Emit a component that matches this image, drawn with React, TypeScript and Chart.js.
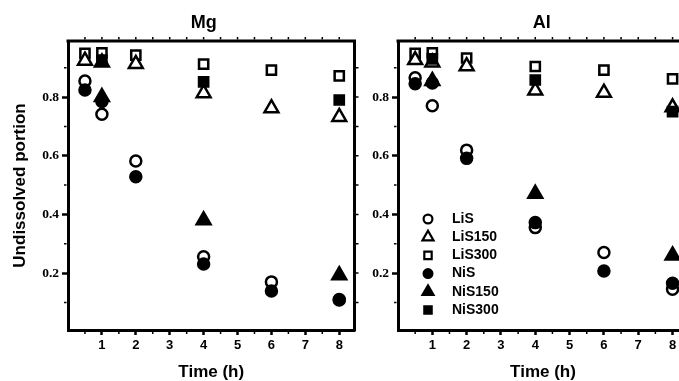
import React, { useEffect, useRef } from 'react';
import { Chart, registerables } from 'chart.js';
import { drawPoint } from 'chart.js/helpers';

Chart.register(...registerables);

// ---------- data ----------
const timePoints = [0.5, 1, 2, 4, 6, 8];
const xTickValues = [1, 2, 3, 4, 5, 6, 7, 8];
const yTickValues = [0.2, 0.4, 0.6, 0.8];
const xMinorTicks = [0.5, 1, 1.5, 2, 2.5, 3, 3.5, 4, 4.5, 5, 5.5, 6, 6.5, 7, 7.5, 8];
const yMinorTicks = [0.1, 0.2, 0.3, 0.4, 0.5, 0.6, 0.7, 0.8, 0.9];
const seriesNames = ['LiS', 'LiS150', 'LiS300', 'NiS', 'NiS150', 'NiS300'];

const mgLiS = [0.855, 0.741, 0.582, 0.256, 0.17, 0.11];
const mgLiS150 = [0.924, 0.918, 0.913, 0.813, 0.762, 0.732];
const mgLiS300 = [0.949, 0.951, 0.943, 0.912, 0.892, 0.872];
const mgNiS = [0.824, 0.785, 0.528, 0.231, 0.139, 0.108];
const mgNiS150 = [null, 0.8, null, 0.38, null, 0.193];
const mgNiS300 = [null, 0.926, null, 0.852, null, 0.79];

const alLiS = [0.866, 0.77, 0.619, 0.355, 0.27, 0.145];
const alLiS150 = [0.926, 0.918, 0.905, 0.822, 0.815, 0.765];
const alLiS300 = [0.949, 0.951, 0.933, 0.904, 0.892, 0.862];
const alNiS = [0.845, 0.848, 0.591, 0.372, 0.207, 0.165];
const alNiS150 = [null, 0.855, null, 0.47, null, 0.26];
const alNiS300 = [null, 0.93, null, 0.858, null, 0.75];

const mgSeries = [mgLiS, mgLiS150, mgLiS300, mgNiS, mgNiS150, mgNiS300];
const alSeries = [alLiS, alLiS150, alLiS300, alNiS, alNiS150, alNiS300];

// ---------- styles ----------
const SANS = '"Liberation Sans", Arial, Helvetica, sans-serif';
const SERIF = '"Liberation Serif", "Times New Roman", serif';

const seriesStyles = [
  { pointStyle: 'circle', filled: false, radius: 5.5, order: 4 },
  { pointStyle: 'triangle', filled: false, radius: 8, order: 5 },
  { pointStyle: 'rect', filled: false, radius: 6.5, order: 6 },
  { pointStyle: 'circle', filled: true, radius: 5.5, order: 3 },
  { pointStyle: 'triangle', filled: true, radius: 8, order: 2 },
  { pointStyle: 'rect', filled: true, radius: 6.5, order: 1 },
];

const framePlugin = {
  id: 'frameBox',
  beforeDatasetsDraw(chart: any) {
    const { ctx, chartArea: ca, scales } = chart;
    const xs = scales.x;
    const ys = scales.y;
    ctx.save();
    ctx.strokeStyle = '#000';
    ctx.lineWidth = 3;
    ctx.beginPath();
    ctx.moveTo(ca.left - 1.5, ca.top);
    ctx.lineTo(ca.right, ca.top);
    ctx.lineTo(ca.right, ca.bottom + 1.5);
    ctx.stroke();
    ctx.lineWidth = 1.5;
    ctx.beginPath();
    for (const v of xMinorTicks) {
      const px = xs.getPixelForValue(v);
      ctx.moveTo(px, ca.top - 1.5);
      ctx.lineTo(px, ca.top - 4);
      if (!Number.isInteger(v)) {
        ctx.moveTo(px, ca.bottom + 1.5);
        ctx.lineTo(px, ca.bottom + 4);
      }
    }
    for (const v of yMinorTicks) {
      const py = ys.getPixelForValue(v);
      ctx.moveTo(ca.right + 1.5, py);
      ctx.lineTo(ca.right + 4, py);
      if (!yTickValues.some((t) => Math.abs(t - v) < 1e-9)) {
        ctx.moveTo(ca.left - 1.5, py);
        ctx.lineTo(ca.left - 4, py);
      }
    }
    ctx.stroke();
    ctx.restore();
  },
};

const legendPlugin = {
  id: 'insideLegend',
  afterDraw(chart: any) {
    const { ctx, chartArea: ca } = chart;
    ctx.save();
    chart.data.datasets.forEach((ds: any, i: number) => {
      const y = ca.top + 178 + i * 18.2;
      const x = ca.left + 30;
      ctx.fillStyle = ds.pointBackgroundColor;
      ctx.strokeStyle = '#000';
      ctx.lineWidth = 2.2;
      drawPoint(
        ctx,
        { pointStyle: ds.pointStyle, radius: ds.pointRadius * 0.8, rotation: 0, borderWidth: 2.2 } as any,
        x,
        y
      );
      ctx.fillStyle = '#000';
      ctx.font = `bold 14px ${SANS}`;
      ctx.textBaseline = 'middle';
      ctx.textAlign = 'left';
      ctx.fillText(ds.label, ca.left + 54, y);
    });
    ctx.restore();
  },
};

type PanelProps = {
  title: string;
  series: (number | null)[][];
  showYTitle: boolean;
  showLegend: boolean;
  left: number;
  width: number;
  yAxisWidth: number;
  padRight: number;
  titleShift: number;
};

function Panel(props: PanelProps) {
  const ref = useRef<HTMLCanvasElement>(null);
  useEffect(() => {
    const canvas = ref.current!;
    const datasets = seriesNames.map((name, i) => {
      const st = seriesStyles[i];
      const fill = st.filled ? '#000' : '#fff';
      return {
        label: name,
        data: timePoints
          .map((t, j) => ({ x: t, y: props.series[i][j] }))
          .filter((p) => p.y !== null && p.y !== undefined),
        pointStyle: st.pointStyle,
        pointRadius: st.radius,
        pointHoverRadius: st.radius,
        pointBorderWidth: 2.5,
        pointBorderColor: '#000',
        pointBackgroundColor: fill,
        borderColor: '#000',
        backgroundColor: fill,
        showLine: false,
        order: st.order,
        clip: false,
      };
    });

    const titlePlugin = {
      id: 'titleShift',
      afterLayout(chart: any) {
        const tb = chart.titleBlock;
        if (tb) {
          tb.left = chart.chartArea.left + props.titleShift;
          tb.right = chart.chartArea.right + props.titleShift;
        }
      },
    };

    const chart = new Chart(canvas, {
      type: 'scatter',
      data: { datasets } as any,
      options: {
        animation: false,
        responsive: false,
        devicePixelRatio: 1,
        events: [],
        layout: { padding: { top: 0, right: props.padRight, bottom: 0, left: 0 } },
        plugins: {
          legend: { display: false },
          tooltip: { enabled: false },
          title: {
            display: true,
            text: props.title,
            color: '#000',
            font: { family: SANS, size: 18, weight: 'bold', lineHeight: 1.2 },
            padding: { top: 12, bottom: 7.4 },
          },
        },
        scales: {
          x: {
            type: 'linear',
            min: 0,
            max: 8.45,
            afterBuildTicks: (s: any) => {
              s.ticks = xTickValues.map((v) => ({ value: v }));
            },
            afterFit: (s: any) => {
              s.height = 51;
            },
            ticks: {
              color: '#000',
              font: { family: SANS, size: 13, weight: 'bold' },
              padding: 3,
              maxRotation: 0,
              autoSkip: false,
              callback: (v: any) => String(v),
            },
            grid: {
              display: true,
              drawOnChartArea: false,
              drawTicks: true,
              tickLength: 5,
              tickWidth: 2.5,
              tickColor: '#000',
            },
            border: { display: true, color: '#000', width: 3 },
            title: {
              display: true,
              text: 'Time (h)',
              color: '#000',
              font: { family: SANS, size: 17, weight: 'bold', lineHeight: 1 },
              padding: 0,
            },
          },
          y: {
            type: 'linear',
            min: 0.006,
            max: 0.991,
            afterBuildTicks: (s: any) => {
              s.ticks = yTickValues.map((v) => ({ value: v }));
            },
            afterFit: (s: any) => {
              s.width = props.yAxisWidth;
            },
            ticks: {
              color: '#000',
              font: { family: SERIF, size: 13.5, weight: 'bold' },
              padding: 3,
              autoSkip: false,
              callback: (v: any) => Number(v).toFixed(1),
            },
            grid: {
              display: true,
              drawOnChartArea: false,
              drawTicks: true,
              tickLength: 6,
              tickWidth: 2.5,
              tickColor: '#000',
            },
            border: { display: true, color: '#000', width: 3 },
            title: {
              display: props.showYTitle,
              text: 'Undissolved portion',
              color: '#000',
              font: { family: SANS, size: 17, weight: 'bold', lineHeight: 1 },
              padding: { top: 11.5, bottom: 0 },
            },
          },
        },
      } as any,
      plugins: [titlePlugin, framePlugin, ...(props.showLegend ? [legendPlugin] : [])],
    });
    return () => chart.destroy();
  }, []);

  return (
    <canvas
      ref={ref}
      width={props.width}
      height={381}
      style={{ position: 'absolute', left: props.left, top: 0, width: props.width, height: 381 }}
    />
  );
}

export default function App() {
  return (
    <div
      style={{
        position: 'fixed',
        left: 0,
        top: 0,
        width: 679,
        height: 381,
        overflow: 'hidden',
        background: '#fff',
      }}
    >
      <Panel
        title="Mg"
        series={mgSeries}
        showYTitle={true}
        showLegend={false}
        left={0}
        width={365}
        yAxisWidth={68}
        padRight={8}
        titleShift={-7.5}
      />
      <Panel
        title="Al"
        series={alSeries}
        showYTitle={false}
        showLegend={true}
        left={360}
        width={340}
        yAxisWidth={38}
        padRight={12}
        titleShift={-1.3}
      />
    </div>
  );
}
